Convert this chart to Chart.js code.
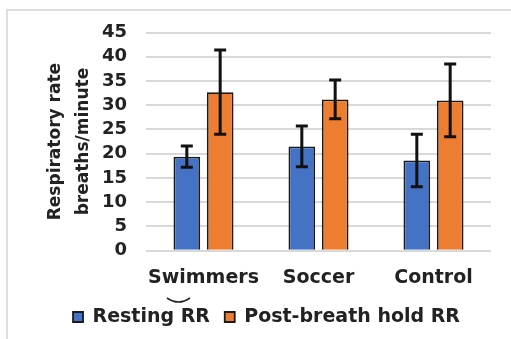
<!DOCTYPE html>
<html>
<head>
<meta charset="utf-8">
<script src="https://cdn.jsdelivr.net/npm/chart.js@4/dist/chart.umd.min.js"></script>
<style>
  html, body { margin: 0; padding: 0; background: #fff; }
  #wrap { width: 511px; height: 339px; position: relative; }
</style>
</head>
<body>
<div id="wrap"><canvas id="c" width="511" height="339"></canvas></div>
<script>
const categories = ['Swimmers', 'Soccer', 'Control'];
const restingRR = [19.4, 21.5, 18.6];
const restingErr = [2.2, 4.2, 5.4];
const postHoldRR = [32.7, 31.2, 31.0];
const postHoldErr = [8.7, 4.0, 7.5];
const yMin = 0, yMax = 45, yStep = 5;
const seriesNames = ['Resting RR', 'Post-breath hold RR'];
const yTitle = ['Respiratory rate', 'breaths/minute'];

const FONT = "'DejaVu Sans', sans-serif";

const frameAndMark = {
  id: 'frameAndMark',
  beforeDraw(chart) {
    const ctx = chart.ctx;
    ctx.save();
    ctx.fillStyle = '#fff';
    ctx.fillRect(0, 0, chart.width, chart.height);
    ctx.strokeStyle = '#dedede';
    ctx.lineWidth = 2;
    ctx.strokeRect(7, 10, 600, 400);
    ctx.restore();
  },
  afterDraw(chart) {
    const ctx = chart.ctx;
    ctx.save();
    ctx.strokeStyle = '#222';
    ctx.lineWidth = 1.6;
    ctx.beginPath();
    ctx.moveTo(167, 298);
    ctx.quadraticCurveTo(178.5, 306, 190, 298);
    ctx.stroke();
    ctx.restore();
  }
};

const errorBars = {
  id: 'errorBars',
  afterDatasetsDraw(chart) {
    const ctx = chart.ctx;
    const yScale = chart.scales.y;
    ctx.save();
    ctx.strokeStyle = '#111';
    ctx.lineWidth = 3;
    chart.data.datasets.forEach((ds, di) => {
      const meta = chart.getDatasetMeta(di);
      meta.data.forEach((bar, i) => {
        const v = ds.data[i], e = ds.errors[i];
        const x = bar.x;
        const yTop = yScale.getPixelForValue(v + e);
        const yBot = yScale.getPixelForValue(v - e);
        const cap = 6;
        ctx.beginPath();
        ctx.moveTo(x, yTop); ctx.lineTo(x, yBot);
        ctx.moveTo(x - cap, yTop); ctx.lineTo(x + cap, yTop);
        ctx.moveTo(x - cap, yBot); ctx.lineTo(x + cap, yBot);
        ctx.stroke();
      });
    });
    ctx.restore();
  }
};

new Chart(document.getElementById('c'), {
  type: 'bar',
  data: {
    labels: categories,
    datasets: [
      { label: seriesNames[0], data: restingRR, errors: restingErr,
        backgroundColor: '#4472C4', borderColor: '#1a1a1a', borderWidth: 1.8,
        categoryPercentage: 0.58, barPercentage: 0.8 },
      { label: seriesNames[1], data: postHoldRR, errors: postHoldErr,
        backgroundColor: '#ED7D31', borderColor: '#1a1a1a', borderWidth: 1.8,
        categoryPercentage: 0.58, barPercentage: 0.8 }
    ]
  },
  options: {
    responsive: false,
    animation: false,
    devicePixelRatio: 1,
    layout: { padding: { left: 42, right: 20, top: 32.5, bottom: 2.5 } },
    plugins: {
      tooltip: { enabled: false },
      legend: {
        position: 'bottom',
        labels: {
          boxWidth: 10, boxHeight: 10, padding: 14.8,
          color: '#222',
          font: { family: FONT, size: 19, weight: 'bold' }
        }
      }
    },
    scales: {
      x: {
        grid: { display: false },
        border: { display: false },
        ticks: { color: '#222', padding: 7.5, maxRotation: 0, minRotation: 0, autoSkip: false,
                 font: { family: FONT, size: 19, weight: 'bold' } },
        afterFit(s) { s.height = 42; }
      },
      y: {
        min: yMin, max: yMax,
        ticks: { stepSize: yStep, autoSkip: false, color: '#222', padding: 19, font: { family: FONT, size: 18, weight: 'bold' } },
        grid: { color: '#d9d9d9', lineWidth: 2, drawTicks: false },
        border: { display: false },
        title: {
          display: true, text: yTitle, color: '#222',
          font: { family: FONT, size: 17, weight: 'bold', lineHeight: 1.65 },
          padding: { top: 0, bottom: 0 }
        },
        afterFit(s) { s.width = 104; }
      }
    }
  },
  plugins: [frameAndMark, errorBars]
});
</script>
</body>
</html>
